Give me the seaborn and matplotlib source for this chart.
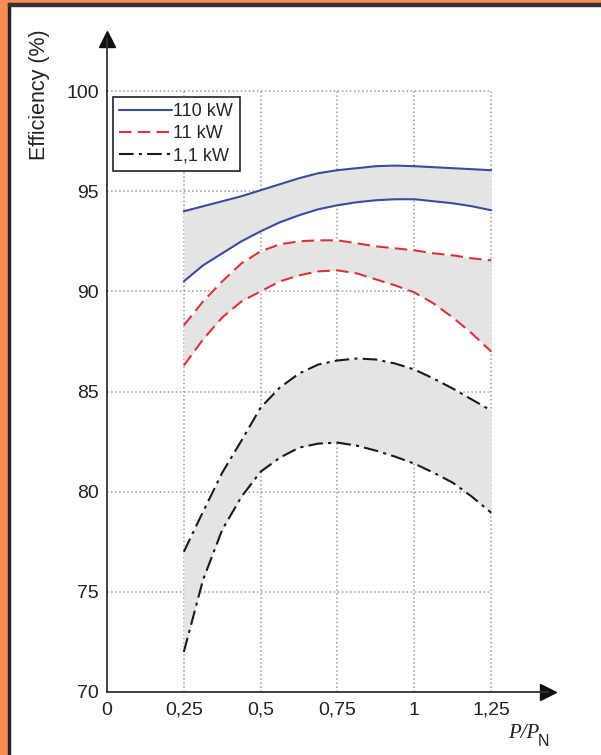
"""
Efficiency bands of induction motors (110 kW, 11 kW, 1,1 kW) versus load P/P_N.
"""

import numpy as np
import pandas as pd
import matplotlib
matplotlib.use('Agg')
import matplotlib.pyplot as plt
import seaborn as sns
from matplotlib.patches import Rectangle

# Data
load = [0.25, 0.3125, 0.375, 0.4375, 0.5, 0.5625, 0.625, 0.6875, 0.75,
        0.8125, 0.875, 0.9375, 1.0, 1.0625, 1.125, 1.1875, 1.25]

eff_110_upper = [94.0, 94.25, 94.5, 94.75, 95.05, 95.35, 95.65, 95.9, 96.05,
                 96.15, 96.25, 96.28, 96.25, 96.2, 96.15, 96.1, 96.05]
eff_110_lower = [90.5, 91.3, 91.9, 92.5, 93.0, 93.45, 93.8, 94.1, 94.3,
                 94.45, 94.55, 94.6, 94.6, 94.5, 94.4, 94.25, 94.05]

eff_11_upper = [88.3, 89.5, 90.5, 91.4, 92.0, 92.35, 92.5, 92.55, 92.55,
                92.4, 92.25, 92.15, 92.05, 91.9, 91.8, 91.65, 91.55]
eff_11_lower = [86.3, 87.6, 88.7, 89.5, 90.0, 90.5, 90.8, 91.0, 91.05,
                90.9, 90.6, 90.3, 89.95, 89.4, 88.7, 87.9, 87.0]

eff_1_1_upper = [77.0, 79.0, 80.95, 82.55, 84.2, 85.2, 85.9, 86.35, 86.55,
                 86.65, 86.6, 86.4, 86.1, 85.65, 85.15, 84.6, 84.05]
eff_1_1_lower = [72.0, 75.6, 78.1, 79.75, 81.0, 81.7, 82.2, 82.4, 82.45,
                 82.3, 82.05, 81.75, 81.4, 80.95, 80.45, 79.75, 78.95]

series_labels = ['110 kW', '11 kW', '1,1 kW']
x_ticks = [0, 0.25, 0.5, 0.75, 1, 1.25]
x_tick_labels = ['0', '0,25', '0,5', '0,75', '1', '1,25']
y_ticks = [70, 75, 80, 85, 90, 95, 100]

sns.set_theme(style='white')
plt.rcParams['font.family'] = ['Liberation Sans', 'DejaVu Sans']

W, H = 601, 755
fig = plt.figure(figsize=(W / 100, H / 100), dpi=100)

# orange frame with a dark inner line
fig.patches.append(Rectangle((0, 0), 8 / W, 1, transform=fig.transFigure,
                             color='#f98c55', zorder=0))
fig.patches.append(Rectangle((0, 1 - 3 / H), 1, 3 / H, transform=fig.transFigure,
                             color='#f98c55', zorder=0))
fig.patches.append(Rectangle((8 / W, 0), 2 / W, 1 - 3 / H, transform=fig.transFigure,
                             color='#222222', zorder=0))
fig.patches.append(Rectangle((8 / W, 1 - 6 / H), 1, 3 / H, transform=fig.transFigure,
                             color='#333333', zorder=0))

# axes placed so that x=0 -> px 107, y=70 -> px 692
x0, x1 = 0, 1.435
y0, y1 = 70, 102.6
left_px, right_px = 107, 548
bottom_px, top_px = 692, 39
ax = fig.add_axes([left_px / W, 1 - bottom_px / H,
                   (right_px - left_px) / W, (bottom_px - top_px) / H])
ax.set_facecolor('none')
ax.set_xlim(x0, x1)
ax.set_ylim(y0, y1)

# dotted grid only inside the data region
ax.hlines(y_ticks[1:], 0, 1.25, colors='#9a9a9a', linestyles=':', linewidth=1.1, zorder=1)
ax.vlines(x_ticks[1:], 70, 100, colors='#9a9a9a', linestyles=':', linewidth=1.1, zorder=1)

df = pd.DataFrame({
    'load': load,
    'u110': eff_110_upper, 'l110': eff_110_lower,
    'u11': eff_11_upper, 'l11': eff_11_lower,
    'u1': eff_1_1_upper, 'l1': eff_1_1_lower,
})

band_color = '#e4e4e4'
for up, lo in [('u110', 'l110'), ('u11', 'l11'), ('u1', 'l1')]:
    ax.fill_between(df['load'], df[lo], df[up], color=band_color, zorder=2, linewidth=0)

styles = [
    ('u110', 'l110', '#3b4ba0', (None, None), series_labels[0]),
    ('u11', 'l11', '#d9333b', (6, 3), series_labels[1]),
    ('u1', 'l1', '#1a1a1a', (7, 2.5, 1.5, 2.5), series_labels[2]),
]
for up, lo, color, dash, label in styles:
    for col, lab in [(up, label), (lo, None)]:
        sns.lineplot(data=df, x='load', y=col, ax=ax, color=color,
                     linewidth=1.5, label=lab, legend=False, zorder=3)
        ln = ax.lines[-1]
        if dash[0] is not None:
            ln.set_dashes(dash)

# axes with arrow heads
for side in ['top', 'right']:
    ax.spines[side].set_visible(False)
for side in ['left', 'bottom']:
    ax.spines[side].set_color('#333333')
    ax.spines[side].set_linewidth(1.3)
ax.plot(1, 0, '>', color='#111111', markersize=11, transform=ax.transAxes, clip_on=False)
ax.plot(0, 1, '^', color='#111111', markersize=11, transform=ax.transAxes, clip_on=False)

ax.set_xticks(x_ticks)
ax.set_xticklabels(x_tick_labels)
ax.set_yticks(y_ticks)
ax.tick_params(axis='both', labelsize=14, colors='#222222', length=2, direction='in', pad=6)
ax.tick_params(axis='x', pad=7)
ax.set_xlabel('')
ax.set_ylabel('')

fig.text(40 / W, 1 - 95 / H, 'Efficiency (%)', rotation=90, ha='center', va='center',
         fontsize=15.5, color='#222222')
fig.text(508 / W, 1 - 733 / H, 'P/P', ha='left', va='center', style='italic',
         family=['Liberation Serif', 'DejaVu Serif'], fontsize=15, color='#222222')
fig.text(538 / W, 1 - 741 / H, 'N', ha='left', va='center',
         fontsize=11.5, color='#222222')

handles = [ax.lines[0], ax.lines[2], ax.lines[4]]
leg = ax.legend(handles, series_labels, loc='upper left',
                bbox_to_anchor=(113 / W, 1 - 97 / H), bbox_transform=fig.transFigure,
                fontsize=13, frameon=True, fancybox=False, framealpha=1,
                handlelength=2.9, handletextpad=0.1, borderpad=0.35,
                labelspacing=0.28, borderaxespad=0)
leg.get_frame().set_edgecolor('#222222')
leg.get_frame().set_linewidth(1.2)

fig.savefig('out.png', dpi=100)
